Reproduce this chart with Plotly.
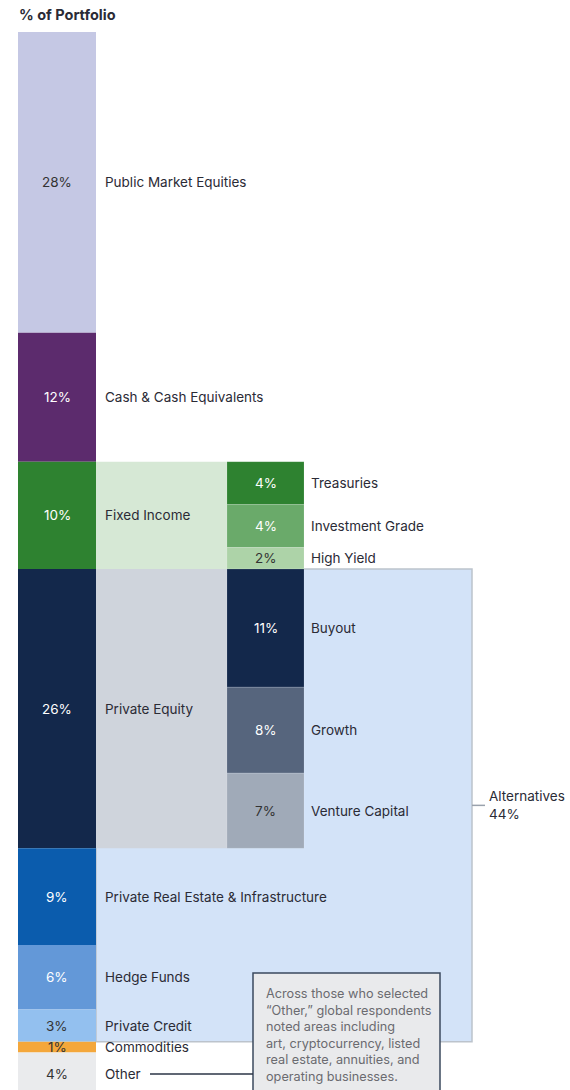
import plotly.graph_objects as go

# ---- data ----
categories = ["Public Market Equities", "Cash & Cash Equivalents", "Fixed Income",
              "Private Equity", "Private Real Estate & Infrastructure", "Hedge Funds",
              "Private Credit", "Commodities", "Other"]
values = [28, 12, 10, 26, 9, 6, 3, 1, 4]
main_colors = ["#c5c8e4", "#5c2b6d", "#2e8230", "#13284b", "#0b5cad", "#6398d8",
               "#93c0ef", "#f4a73b", "#eaebed"]
pct_colors = ["#333333", "white", "white", "white", "white", "white", "#333333", "#333333", "#333333"]

fi_sub = ["Treasuries", "Investment Grade", "High Yield"]
fi_sub_values = [4, 4, 2]
fi_sub_colors = ["#2e8230", "#6aaa6a", "#add3a8"]
fi_sub_text = ["white", "white", "#333333"]

pe_sub = ["Buyout", "Growth", "Venture Capital"]
pe_sub_values = [11, 8, 7]
pe_sub_colors = ["#13284b", "#56657d", "#a0aab8"]
pe_sub_text = ["white", "white", "#333333"]

alt_members = ["Private Equity", "Private Real Estate & Infrastructure", "Hedge Funds", "Private Credit"]
alt_label = "Alternatives"

other_note = ["Across those who selected", "\u201cOther,\u201d global respondents", "noted areas including",
              "art, cryptocurrency, listed", "real estate, annuities, and", "operating businesses."]

# ---- derived ----
bases = []
acc = 0
for v in values:
    bases.append(acc)
    acc += v
idx = {c: i for i, c in enumerate(categories)}
alt_base = bases[idx[alt_members[0]]]
alt_total = sum(values[idx[c]] for c in alt_members)

fi_i = idx["Fixed Income"]
pe_i = idx["Private Equity"]
fi_bases = []
a = bases[fi_i]
for v in fi_sub_values:
    fi_bases.append(a); a += v
pe_bases = []
a = bases[pe_i]
for v in pe_sub_values:
    pe_bases.append(a); a += v

FONT = "Inter"
TXT = "#2b2b36"
LS = 13.5

fig = go.Figure()

# Alternatives background
fig.add_trace(go.Bar(x=[284], y=[alt_total], base=[alt_base], width=[376],
                     marker=dict(color="#d3e3f8", line=dict(color="#bcc3cc", width=1.5)),
                     hoverinfo="skip", showlegend=False))
# main column
fig.add_trace(go.Bar(x=[57] * len(values), y=values, base=bases, width=78,
                     marker=dict(color=main_colors, line=dict(width=0)),
                     hoverinfo="skip", showlegend=False))
# middle label backgrounds
fig.add_trace(go.Bar(x=[161.5, 161.5], y=[values[fi_i], values[pe_i]], base=[bases[fi_i], bases[pe_i]],
                     width=131, marker=dict(color=["#d6e8d5", "#cfd4dc"], line=dict(width=0)),
                     hoverinfo="skip", showlegend=False))
# sub columns
fig.add_trace(go.Bar(x=[265.5] * 6, y=fi_sub_values + pe_sub_values, base=fi_bases + pe_bases,
                     width=77, marker=dict(color=fi_sub_colors + pe_sub_colors,
                                           line=dict(color="rgba(255,255,255,0.25)", width=0.5)),
                     hoverinfo="skip", showlegend=False))

ann = []
for i, c in enumerate(categories):
    mid = bases[i] + values[i] / 2
    ann.append(dict(x=57, y=mid, text=f"{values[i]}%", showarrow=False, xanchor="center",
                    font=dict(color=pct_colors[i], size=LS, family=FONT)))
    ann.append(dict(x=103, y=mid, text=c, showarrow=False, xanchor="left",
                    font=dict(color=TXT, size=LS, family=FONT)))
for names, vals, bs, tc in [(fi_sub, fi_sub_values, fi_bases, fi_sub_text),
                            (pe_sub, pe_sub_values, pe_bases, pe_sub_text)]:
    for n, v, b, t in zip(names, vals, bs, tc):
        ann.append(dict(x=265.5, y=b + v / 2, text=f"{v}%", showarrow=False, xanchor="center",
                        font=dict(color=t, size=LS, family=FONT)))
        ann.append(dict(x=309, y=b + v / 2, text=n, showarrow=False, xanchor="left",
                        font=dict(color=TXT, size=LS, family=FONT)))

alt_mid = alt_base + alt_total / 2
ann.append(dict(x=487, y=alt_mid, text=f"{alt_label}<br>{alt_total}%", showarrow=False,
                xanchor="left", align="left", font=dict(color=TXT, size=LS, family=FONT)))

# title
ann.append(dict(x=17, xref="x", y=1.017, yref="paper", text="<b>% of Portfolio</b>", showarrow=False,
                xanchor="left", yanchor="middle", font=dict(color=TXT, size=14.5, family=FONT)))

# other note
ann.append(dict(x=264, y=88.6, text="<br>".join(other_note), showarrow=False, xanchor="left",
                yanchor="top", align="left", font=dict(color="#6b6b70", size=12.7, family=FONT)))

other_mid = bases[idx["Other"]] + values[idx["Other"]] / 2
shapes = [
    dict(type="line", x0=472, x1=485, y0=alt_mid, y1=alt_mid, line=dict(color="#9aa2ad", width=1.5)),
    dict(type="rect", x0=253, x1=440, y0=87.6, y1=101, fillcolor="#e9eaec",
         line=dict(color="#3b4a5e", width=1.5), layer="above"),
    dict(type="line", x0=150, x1=253, y0=other_mid, y1=other_mid, line=dict(color="#2b3446", width=1.5)),
]

fig.update_layout(
    width=570, height=1090,
    margin=dict(l=0, r=0, t=32, b=0),
    paper_bgcolor="white", plot_bgcolor="white",
    barmode="overlay",
    xaxis=dict(range=[0, 570], visible=False, fixedrange=True),
    yaxis=dict(range=[98.5, 0], visible=False, fixedrange=True),
    annotations=ann, shapes=shapes, showlegend=False,
)

fig.write_html(
    "out.html",
    config={"displayModeBar": False},
    post_script="document.body.style.margin='0';document.body.style.overflow='hidden';",
)
